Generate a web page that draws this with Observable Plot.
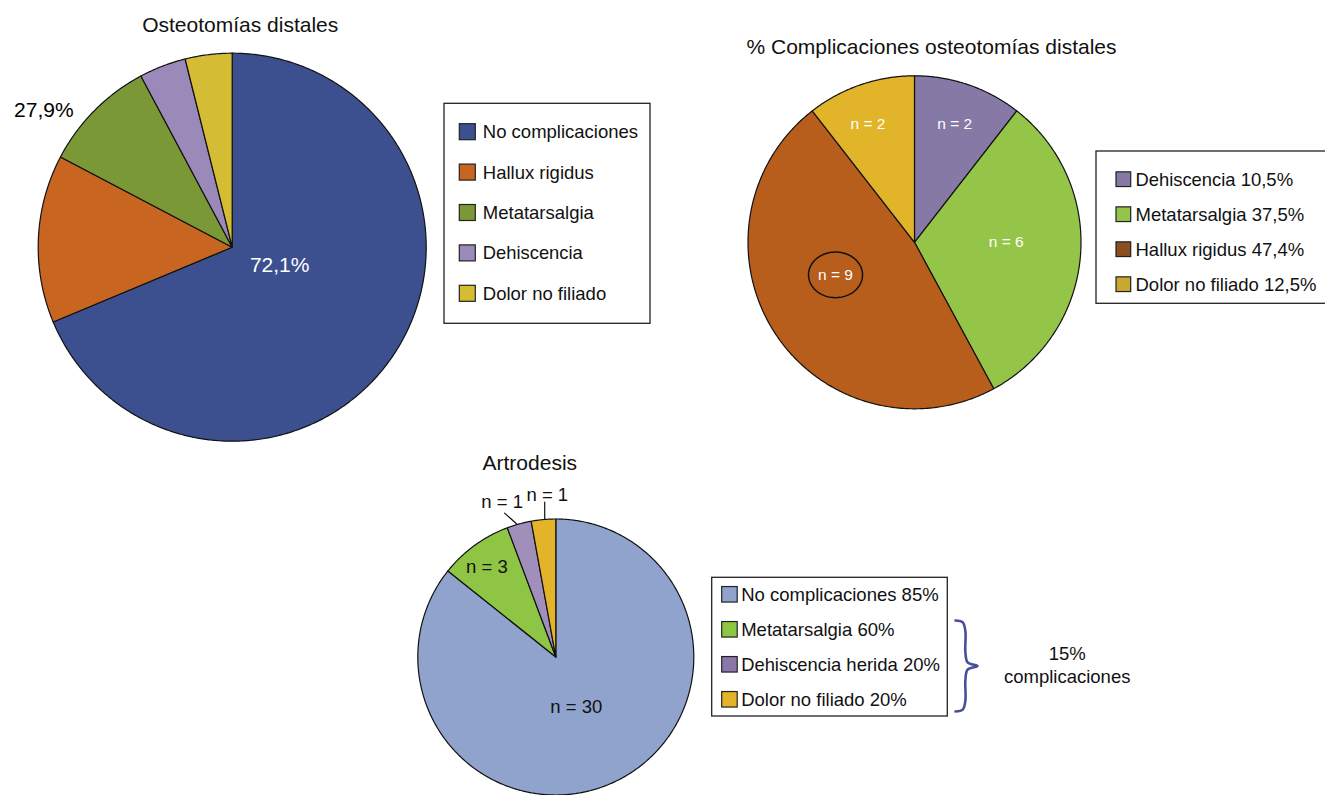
<!DOCTYPE html>
<html>
<head>
<meta charset="utf-8">
<script src="https://cdn.jsdelivr.net/npm/d3@7"></script>
<script src="https://cdn.jsdelivr.net/npm/@observablehq/plot@0.6"></script>
<style>
  html, body { margin: 0; padding: 0; background: #fff; }
  #chart svg { display: block; }
</style>
</head>
<body>
<div id="chart"></div>
<script>
// ---------------- DATA ----------------
// Pie 1: Osteotomías distales (shares, %)
const osteoTitle = "Osteotomías distales";
const osteoCategories = ["No complicaciones", "Hallux rigidus", "Metatarsalgia", "Dehiscencia", "Dolor no filiado"];
const osteoShares = [68.7, 14.0, 9.5, 3.9, 3.9];
const osteoColors = ["#3c508f", "#c86621", "#7b9837", "#9b89b9", "#d4bd34"];
const osteoLabels = ["72,1%", "27,9%"];

// Pie 2: % Complicaciones osteotomías distales (counts)
const complTitle = "% Complicaciones osteotomías distales";
const complCategories = ["Dehiscencia", "Metatarsalgia", "Hallux rigidus", "Dolor no filiado"];
const complCounts = [2, 6, 9, 2];
const complColors = ["#8779a5", "#94c548", "#b75e1d", "#e2b42a"];
const complLegendLabels = ["Dehiscencia 10,5%", "Metatarsalgia 37,5%", "Hallux rigidus 47,4%", "Dolor no filiado 12,5%"];
const complLegendColors = ["#8779a5", "#94c548", "#8b4f22", "#c9a832"];

// Pie 3: Artrodesis (counts)
const artroTitle = "Artrodesis";
const artroCategories = ["No complicaciones", "Metatarsalgia", "Dehiscencia herida", "Dolor no filiado"];
const artroCounts = [30, 3, 1, 1];
const artroColors = ["#8fa3cc", "#8fc544", "#a08fbb", "#e3b42a"];
const artroLegendLabels = ["No complicaciones 85%", "Metatarsalgia 60%", "Dehiscencia herida 20%", "Dolor no filiado 20%"];
const artroLegendColors = ["#8fa3cc", "#8fc544", "#8a78a8", "#e3b42a"];
const artroBraceLabel = "15%\ncomplicaciones";

// ---------------- LAYOUT ----------------
const W = 1325, H = 795;
const FONT = "'Liberation Sans', Arial, Helvetica, sans-serif";
const layout = {
  osteo: {
    cx: 231.7, cy: 246.7, r: 194,
    title: {dx: 8, gap: 21.7},
    labels: [{slice: 0, angle: 110.9, frac: 0.262, fill: "white"}, {slice: 1, angle: 306, frac: 1.2, fill: "black"}],
    labelSize: 21,
    legend: {x: 444, y: 103.3, w: 206, h: 220, first: 28.4, step: 40.4, sq: 16, sqX: 15.3, textX: 38.3}
  },
  compl: {
    cx: 914, cy: 241.8, r: 166.5,
    title: {dx: 17, gap: 22},
    labels: [{angle: 18.8, frac: 0.75}, {angle: 90, frac: 0.551}, {angle: 247.6, frac: 0.513}, {angle: 338.5, frac: 0.762}],
    labelSize: 15.5,
    ring: {slice: 2, rx: 27, ry: 22.8},
    legend: {x: 1096, y: 151, w: 245, h: 152.3, first: 28.2, step: 35, sq: 14.7, sqX: 20, textX: 39}
  },
  artro: {
    cx: 555.3, cy: 656.5, r: 138,
    title: {dx: -26, gap: 49},
    labels: [{angle: 157.5, frac: 0.389}, {angle: 322.5, frac: 0.82}, {angle: 340.9, frac: 1.187}, {angle: 357, frac: 1.176}],
    leaders: [{slice: 2, a0: 343.8, f0: 1.0, a1: 340.4, f1: 1.107}, {slice: 3, a0: 355.4, f0: 1.0, a1: 355.9, f1: 1.125}],
    labelSize: 18.5,
    legend: {x: 711.7, y: 577.3, w: 235.6, h: 138.7, first: 17, step: 35, sq: 15.5, sqX: 10, textX: 29},
    brace: {x: 955, top: 620, bottom: 711, depth: 22, color: "#4a4f9b"},
    braceText: {x: 1066.7, y: 664}
  }
};
const LEGEND_FS = 18.5;
const TITLE_FS = 21;
const NARROW_WORD = "Dehiscencia";
const NARROW_LEN = 100;

// ---------------- GEOMETRY HELPERS ----------------
const rad = d => d * Math.PI / 180;
const polar = (g, angleDeg, frac) => ({x: g.cx + g.r * frac * Math.sin(rad(angleDeg)), y: g.cy - g.r * frac * Math.cos(rad(angleDeg))});

function pieRows(values, colors, g, key) {
  const arcs = d3.pie().sort(null).startAngle(0).endAngle(2 * Math.PI)(values);
  const rows = [];
  arcs.forEach((a, i) => {
    const id = key + i;
    const n = Math.max(2, Math.ceil((a.endAngle - a.startAngle) / (Math.PI / 360)));
    rows.push({id, x: g.cx, y: g.cy, fill: colors[i]});
    for (let k = 0; k <= n; k++) {
      const t = a.startAngle + (a.endAngle - a.startAngle) * k / n;
      rows.push({id, x: g.cx + g.r * Math.sin(t), y: g.cy - g.r * Math.cos(t), fill: colors[i]});
    }
    rows.push({id, x: g.cx, y: g.cy, fill: colors[i]});
  });
  return rows;
}

function legendRows(labels, colors, L) {
  return labels.map((label, i) => {
    const yc = L.y + L.first + i * L.step;
    return {label, color: colors[i], x1: L.x + L.sqX, x2: L.x + L.sqX + L.sq, y1: yc - L.sq / 2, y2: yc + L.sq / 2, tx: L.x + L.textX, ty: yc};
  });
}

const G1 = layout.osteo, G2 = layout.compl, G3 = layout.artro;

const slices = [
  ...pieRows(osteoShares, osteoColors, G1, "o"),
  ...pieRows(complCounts, complColors, G2, "c"),
  ...pieRows(artroCounts, artroColors, G3, "a")
];

const legendBoxes = [G1.legend, G2.legend, G3.legend].map(L => ({x1: L.x, x2: L.x + L.w, y1: L.y, y2: L.y + L.h}));
const legendItems = [
  ...legendRows(osteoCategories, osteoColors, G1.legend),
  ...legendRows(complLegendLabels, complLegendColors, G2.legend),
  ...legendRows(artroLegendLabels, artroLegendColors, G3.legend)
];

const titles = [
  {text: osteoTitle, x: G1.cx + G1.title.dx, y: G1.cy - G1.r - G1.title.gap},
  {text: complTitle, x: G2.cx + G2.title.dx, y: G2.cy - G2.r - G2.title.gap},
  {text: artroTitle, x: G3.cx + G3.title.dx, y: G3.cy - G3.r - G3.title.gap}
];

const osteoLabelRows = G1.labels.map((p, i) => ({text: osteoLabels[i], fill: p.fill, ...polar(G1, p.angle, p.frac)}));
const complLabelRows = G2.labels.map((p, i) => ({text: `n = ${complCounts[i]}`, ...polar(G2, p.angle, p.frac)}));
const artroLabelRows = G3.labels.map((p, i) => ({text: `n = ${artroCounts[i]}`, ...polar(G3, p.angle, p.frac)}));

// ellipse around "n = 9"
const ringCenter = complLabelRows[G2.ring.slice];
const ringRows = d3.range(0, 361, 3).map(a => ({x: ringCenter.x + G2.ring.rx * Math.cos(rad(a)), y: ringCenter.y + G2.ring.ry * Math.sin(rad(a))}));

// leader lines in the Artrodesis pie
const leaderRows = G3.leaders.flatMap((l, i) => [
  {id: i, ...polar(G3, l.a0, l.f0)},
  {id: i, ...polar(G3, l.a1, l.f1)}
]);

// curly brace
const B = G3.brace;
const bm = (B.top + B.bottom) / 2, bh = B.bottom - B.top;
const braceRows = [
  [0, 0], [0.33, 0.02], [0.45, 0.12], [0.45, 0.35], [0.55, 0.46], [1, 0.5],
  [0.55, 0.54], [0.45, 0.65], [0.45, 0.88], [0.33, 0.98], [0, 1]
].map(([fx, fy]) => ({x: B.x + fx * B.depth, y: B.top + fy * bh}));

// ---------------- PLOT ----------------
const chart = Plot.plot({
  width: W, height: H, margin: 0,
  x: {domain: [0, W], range: [0, W], axis: null},
  y: {domain: [0, H], range: [0, H], axis: null},
  color: {type: "identity"},
  style: {fontFamily: FONT, background: "white", overflow: "hidden"},
  marks: [
    // pie slices
    Plot.line(slices, {x: "x", y: "y", z: "id", fill: "fill", stroke: "#111", strokeWidth: 1.2, strokeLinejoin: "round"}),
    // titles
    Plot.text(titles, {x: "x", y: "y", text: "text", fontSize: TITLE_FS, lineAnchor: "bottom", fill: "#111"}),
    // slice labels
    Plot.text(osteoLabelRows, {x: "x", y: "y", text: "text", fill: "fill", fontSize: G1.labelSize}),
    Plot.text(complLabelRows, {x: "x", y: "y", text: "text", fill: "white", fontSize: G2.labelSize}),
    Plot.line(ringRows, {x: "x", y: "y", stroke: "#111", strokeWidth: 1.5}),
    Plot.text(artroLabelRows, {x: "x", y: "y", text: "text", fill: "#111", fontSize: G3.labelSize}),
    Plot.line(leaderRows, {x: "x", y: "y", z: "id", stroke: "#111", strokeWidth: 1.2}),
    // legends
    Plot.rect(legendBoxes, {x1: "x1", x2: "x2", y1: "y1", y2: "y2", fill: "white", stroke: "#222", strokeWidth: 1.3}),
    Plot.rect(legendItems, {x1: "x1", x2: "x2", y1: "y1", y2: "y2", fill: "color", stroke: "#222", strokeWidth: 1.2}),
    Plot.text(legendItems, {x: "tx", y: "ty", text: "label", textAnchor: "start", fontSize: LEGEND_FS, fill: "#111"}),
    // brace + note
    Plot.line(braceRows, {x: "x", y: "y", stroke: B.color, strokeWidth: 2.6, curve: "catmull-rom", strokeLinecap: "round"}),
    Plot.text([{t: artroBraceLabel, ...G3.braceText}], {x: "x", y: "y", text: "t", fontSize: LEGEND_FS, lineHeight: 1.23, fill: "#111"})
  ]
});

// Render the word "Dehiscencia" in a condensed width, as in the original figure
const NS = "http://www.w3.org/2000/svg";
chart.querySelectorAll("text").forEach(t => {
  const s = t.textContent;
  if (s.startsWith(NARROW_WORD) && t.children.length === 0) {
    t.textContent = "";
    const a = document.createElementNS(NS, "tspan");
    a.textContent = NARROW_WORD;
    a.setAttribute("textLength", NARROW_LEN);
    a.setAttribute("lengthAdjust", "spacingAndGlyphs");
    t.appendChild(a);
    const rest = s.slice(NARROW_WORD.length);
    if (rest.length) {
      const b = document.createElementNS(NS, "tspan");
      b.textContent = rest;
      t.appendChild(b);
    }
  }
});

document.getElementById("chart").appendChild(chart);
</script>
</body>
</html>
